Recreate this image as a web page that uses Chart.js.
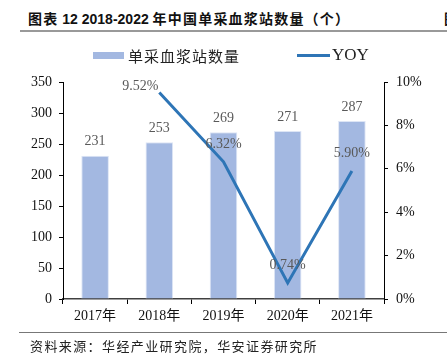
<!DOCTYPE html>
<html><head><meta charset="utf-8">
<script src="https://cdn.jsdelivr.net/npm/chart.js@4/dist/chart.umd.min.js"></script>
<style>
html,body{margin:0;padding:0;background:#fff;width:447px;height:364px;overflow:hidden;position:relative;font-family:"Liberation Serif","Noto Sans CJK SC",serif;}
#title{position:absolute;left:28px;top:8px;font-family:"Liberation Sans","Noto Sans CJK SC",sans-serif;font-weight:bold;font-size:14px;color:#111;white-space:nowrap;}
#title .cj{letter-spacing:1.2px;}
#title2{position:absolute;left:444px;top:8px;font-family:"Noto Sans CJK SC",sans-serif;font-weight:bold;font-size:14px;color:#111;}
#hr1{position:absolute;left:20px;top:30px;width:427px;height:2px;background:#999;}
#hr2{position:absolute;left:19px;top:332px;width:428px;height:1px;background:#777;}
#src{position:absolute;left:30px;top:336px;font-family:"Noto Sans CJK SC",sans-serif;font-size:13px;letter-spacing:1.4px;color:#222;white-space:nowrap;}
#wrap{position:absolute;left:0;top:0;width:447px;height:364px;}
.lg{position:absolute;top:45px;font-size:16px;color:#222;white-space:nowrap;}
</style></head>
<body>
<div id="title"><span class="cj">图表</span> 12 2018-2022 <span class="cj">年中国单采血浆站数量（个）</span></div>
<div id="title2">图</div>
<div id="hr1"></div>
<div id="wrap"><canvas id="c" width="447" height="364"></canvas></div>
<div class="lg" style="left:93px;"><span style="display:inline-block;width:31px;height:7px;background:#A3B8E1;vertical-align:middle;margin-right:4px;"></span><span style="font-family:'Noto Sans CJK SC';font-size:15px;letter-spacing:1px;vertical-align:middle;">单采血浆站数量</span></div>
<div class="lg" style="left:297px;"><span style="display:inline-block;width:33px;height:3px;background:#2E75B6;vertical-align:middle;margin-right:2px;"></span><span style="font-family:'Liberation Serif';font-size:17px;vertical-align:middle;">YOY</span></div>
<div id="hr2"></div>
<div id="src">资料来源：华经产业研究院，华安证券研究所</div>
<script>
const categories = ["2017年","2018年","2019年","2020年","2021年"];
const stationCounts = [231, 253, 269, 271, 287];
const yoyPercent = [null, 9.52, 6.32, 0.74, 5.90];
const leftTicks = [0,50,100,150,200,250,300,350];
const rightTicks = [0,2,4,6,8,10];

const labelPlugin = {
  id: 'valueLabels',
  afterDatasetsDraw(chart) {
    const ctx = chart.ctx;
    ctx.save();
    ctx.fillStyle = '#595959';
    ctx.font = '14px "Liberation Serif", serif';
    ctx.textBaseline = 'middle';
    chart.data.datasets.forEach((ds, di) => {
      const meta = chart.getDatasetMeta(di);
      meta.data.forEach((el, i) => {
        const v = ds.data[i];
        if (v === null || v === undefined) return;
        if (ds.type === 'bar') {
          ctx.textAlign = 'center';
          ctx.fillText(String(v), el.x, el.y - 14);
        } else {
          const txt = v.toFixed(2) + '%';
          const pos = (ds.labelAlign || [])[i] || 'above';
          if (pos === 'left') {
            ctx.textAlign = 'right';
            ctx.fillText(txt, el.x - 1, el.y - 6);
          } else {
            ctx.textAlign = 'center';
            ctx.fillText(txt, el.x, el.y - 18);
          }
        }
      });
    });
    ctx.restore();
  }
};

new Chart(document.getElementById('c'), {
  data: {
    labels: categories,
    datasets: [
      { type: 'line', label: 'YOY', data: yoyPercent, yAxisID: 'y1',
        borderColor: '#2E75B6', borderWidth: 3, pointRadius: 0, tension: 0,
        fill: false, order: 0, labelAlign: ['', 'left', 'above', 'above', 'above'] },
      { type: 'bar', label: '单采血浆站数量', data: stationCounts, yAxisID: 'y',
        backgroundColor: '#A3B8E1', borderColor: '#DDE5F5', borderWidth: {left:1,right:1,top:1,bottom:0},
        barPercentage: 0.43, categoryPercentage: 1, order: 1 }
    ]
  },
  options: {
    responsive: false,
    animation: false,
    devicePixelRatio: 1,
    layout: { padding: { top: 82, left: 0, right: 0, bottom: 0 } },
    plugins: { legend: { display: false }, tooltip: { enabled: false } },
    scales: {
      x: {
        offset: true,
        grid: { display: true, offset: true, drawOnChartArea: false, tickLength: 5, color: '#000', lineWidth: 1 },
        border: { display: true, color: '#404040', width: 1.5 },
        ticks: { color: '#111', font: { family: '"Liberation Serif","Noto Sans CJK SC"', size: 14 }, padding: 4, maxRotation: 0 },
        afterFit(s) { s.height = 65; }
      },
      y: {
        position: 'left', min: 0, max: 350,
        afterBuildTicks(s) { s.ticks = leftTicks.map(v => ({ value: v })); },
        grid: { display: true, drawOnChartArea: false, tickLength: 4, color: '#000' },
        border: { display: true, color: '#000', width: 1 },
        ticks: { color: '#111', font: { family: '"Liberation Serif"', size: 14 }, padding: 7 },
        afterFit(s) { s.width = 63; }
      },
      y1: {
        position: 'right', min: 0, max: 10,
        afterBuildTicks(s) { s.ticks = rightTicks.map(v => ({ value: v })); },
        grid: { display: true, drawOnChartArea: false, tickLength: 4, color: '#000' },
        border: { display: true, color: '#000', width: 1 },
        ticks: { color: '#111', font: { family: '"Liberation Serif"', size: 14 }, padding: 8,
                 callback: v => v + '%' },
        afterFit(s) { s.width = 63; }
      }
    }
  },
  plugins: [labelPlugin]
});
</script>
</body></html>
